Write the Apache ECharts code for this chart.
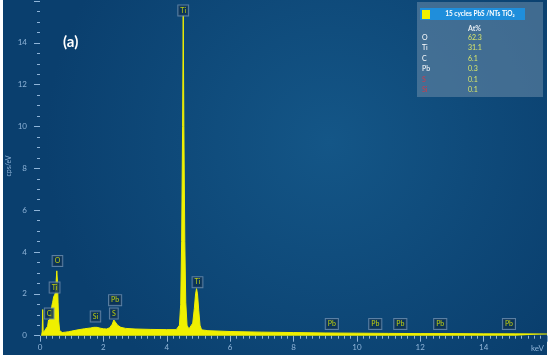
<!DOCTYPE html>
<html>
<head>
<meta charset="utf-8">
<script src="https://cdn.jsdelivr.net/npm/echarts@6/dist/echarts.min.js"></script>
<style>
  html, body { margin: 0; padding: 0; background: #fff; }
  #chart { width: 550px; height: 361px; }
</style>
</head>
<body>
<div id="chart"></div>
<script>
// spectrum: [keV, cps/eV]
var spectrum = [
  [0.05, 0], [0.07, 0.2], [0.085, 1.25], [0.1, 0.15], [0.15, 0.25], [0.2, 0.3],
  [0.24, 0.45], [0.27, 0.75], [0.29, 0.55], [0.31, 0.9], [0.34, 1.1], [0.37, 1.4],
  [0.4, 1.6], [0.43, 1.85], [0.46, 1.95], [0.49, 2.05], [0.51, 2.6], [0.53, 3.1],
  [0.55, 2.6], [0.57, 1.6], [0.59, 0.7], [0.62, 0.25], [0.7, 0.15], [0.8, 0.17],
  [0.9, 0.19], [1.0, 0.22], [1.2, 0.28], [1.4, 0.33], [1.6, 0.37], [1.7, 0.4],
  [1.75, 0.45], [1.8, 0.4], [1.9, 0.36], [2.0, 0.33], [2.1, 0.32], [2.2, 0.38],
  [2.28, 0.55], [2.33, 0.75], [2.38, 0.7], [2.45, 0.5], [2.55, 0.4], [2.7, 0.35],
  [3.0, 0.32], [3.5, 0.3], [4.0, 0.29], [4.3, 0.29], [4.4, 0.5], [4.44, 1.5],
  [4.47, 4.5], [4.5, 10], [4.52, 15.3], [4.54, 10], [4.57, 4.5], [4.6, 1.6],
  [4.64, 0.5], [4.7, 0.32], [4.76, 0.35], [4.82, 0.6], [4.87, 1.3], [4.91, 2.0],
  [4.94, 2.25], [4.97, 2.0], [5.01, 1.2], [5.05, 0.5], [5.1, 0.28], [5.3, 0.24],
  [6, 0.2], [7, 0.17], [8, 0.15], [9, 0.13], [10, 0.12], [11, 0.11], [12, 0.1],
  [13, 0.1], [14, 0.09], [15, 0.09], [16, 0.08]
];

// peak tags: [keV, cps/eV, element]
var peakTags = [
  [4.52, 15.55, 'Ti'], [0.55, 3.57, 'O'], [0.46, 2.3, 'Ti'], [0.29, 1.06, 'C'],
  [1.75, 0.92, 'Si'], [2.37, 1.7, 'Pb'], [2.33, 1.06, 'S'], [4.97, 2.56, 'Ti'],
  [9.21, 0.56, 'Pb'], [10.58, 0.56, 'Pb'], [11.37, 0.56, 'Pb'], [12.63, 0.56, 'Pb'],
  [14.8, 0.56, 'Pb']
];

var elements = ['O', 'Ti', 'C', 'Pb', 'S', 'Si'];
var atPct = ['62.3', '31.1', '6.1', '0.3', '0.1', '0.1'];
var elemColors = ['#ffffff', '#ffffff', '#ffffff', '#ffffff', '#d03a4a', '#d03a4a'];

var tickColor = '#8fb4d8';
var font = 'Lato, "Open Sans", sans-serif';

var chart = echarts.init(document.getElementById('chart'));

var graphics = [
  {
    type: 'rect', z: -100, silent: true,
    shape: { x: 3, y: 0, width: 544, height: 355 },
    style: {
      fill: new echarts.graphic.RadialGradient(0.6, 0.4, 0.8, [
        { offset: 0, color: '#145687' },
        { offset: 1, color: '#0a3f6e' }
      ])
    }
  },
  {
    type: 'text', left: 63, top: 35, z: 100,
    style: { text: '(a)', fill: '#ffffff', font: 'bold 15px ' + font }
  },
  {
    type: 'text', left: 531, top: 344, z: 100,
    style: { text: 'keV', fill: tickColor, font: '8px ' + font }
  },
  // y axis title
  {
    type: 'text', z: 100, x: 9, y: 166, rotation: Math.PI / 2,
    style: {
      text: 'cps/eV', fill: tickColor, font: '7px ' + font,
      align: 'center', verticalAlign: 'middle'
    }
  },
  // legend panel
  {
    type: 'rect', z: 100,
    shape: { x: 417, y: 2, width: 126, height: 95 },
    style: { fill: 'rgba(100,135,165,0.6)' }
  },
  {
    type: 'rect', z: 101,
    shape: { x: 420, y: 8, width: 105, height: 12 },
    style: { fill: '#1f8edb' }
  },
  {
    type: 'rect', z: 102,
    shape: { x: 422, y: 10, width: 8, height: 9 },
    style: { fill: '#f2f200' }
  },
  {
    type: 'text', z: 102, x: 480, y: 14,
    style: {
      text: '15 cycles PbS /NTs TiO₂', fill: '#ffffff',
      font: 'bold 6.5px ' + font, align: 'center', verticalAlign: 'middle'
    }
  },
  {
    type: 'text', z: 102, x: 468, y: 29,
    style: { text: 'At%', fill: '#e8eef4', font: 'bold 7px ' + font, verticalAlign: 'middle' }
  }
];

elements.forEach(function (el, i) {
  var y = 37.5 + i * 10.5;
  graphics.push({
    type: 'text', z: 102, x: 422, y: y,
    style: { text: el, fill: elemColors[i], font: '7px ' + font, verticalAlign: 'middle' }
  });
  graphics.push({
    type: 'text', z: 102, x: 468, y: y,
    style: { text: atPct[i], fill: '#d8e66a', font: '7px ' + font, verticalAlign: 'middle' }
  });
});

var option = {
  backgroundColor: '#ffffff',
  animation: false,
  grid: { left: 40, right: 3, top: 1, bottom: 25.3, containLabel: false, outerBoundsMode: 'none' },
  xAxis: {
    type: 'value', min: 0, max: 16, interval: 2,
    axisLine: { show: false },
    axisTick: { show: true, length: 6, lineStyle: { color: tickColor } },
    minorTick: { show: true, splitNumber: 10, length: 3, lineStyle: { color: tickColor } },
    axisLabel: {
      color: tickColor, fontSize: 8, fontFamily: font, margin: 8,
      formatter: function (v) { return v === 16 ? '' : v; }
    },
    splitLine: { show: false }
  },
  yAxis: {
    type: 'value', min: 0, max: 16, interval: 2, offset: 4,
    axisLine: { show: false },
    axisTick: { show: true, length: 6, lineStyle: { color: tickColor } },
    minorTick: { show: true, splitNumber: 4, length: 3, lineStyle: { color: tickColor } },
    axisLabel: {
      color: tickColor, fontSize: 8, fontFamily: font, margin: 9,
      formatter: function (v) { return v === 16 ? '' : v; }
    },
    splitLine: { show: false }
  },
  series: [
    {
      type: 'line',
      data: spectrum,
      showSymbol: false,
      smooth: false,
      lineStyle: { color: '#f0f000', width: 1 },
      areaStyle: { color: '#f0f000', opacity: 1 },
      z: 2
    },
    {
      type: 'scatter',
      data: peakTags,
      symbolSize: 0,
      z: 5,
      label: {
        show: true, position: 'inside',
        formatter: function (p) { return p.data[2]; },
        color: '#e6f000', fontSize: 7, fontFamily: font,
        backgroundColor: '#0a2f52', borderColor: '#6f8faf', borderWidth: 1,
        padding: [2, 2, 1, 2]
      }
    }
  ],
  graphic: graphics
};

chart.setOption(option);
</script>
</body>
</html>
